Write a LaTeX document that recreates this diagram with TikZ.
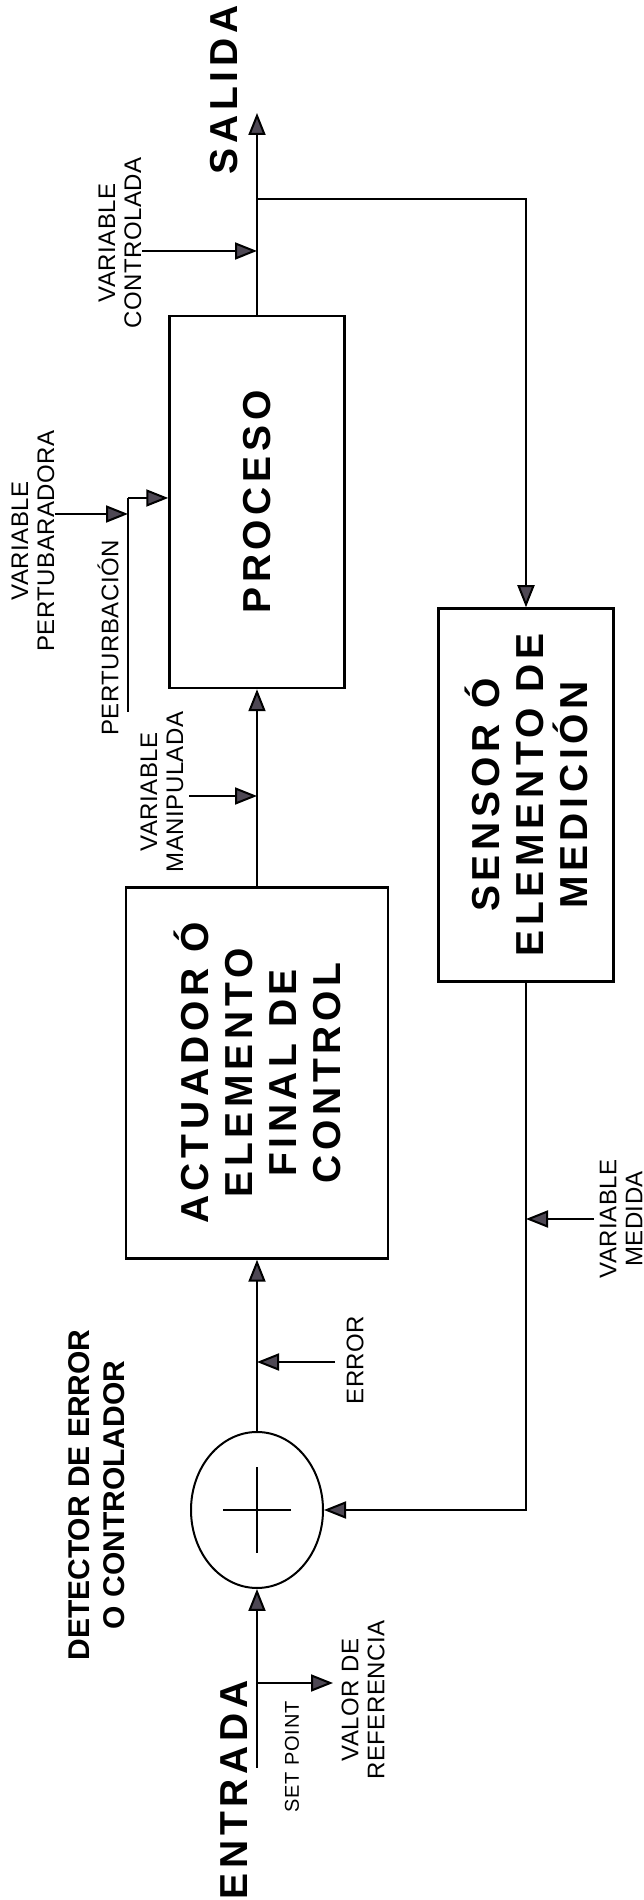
\documentclass[tikz,border=0pt]{standalone}
\usepackage{fontspec}
\setmainfont{Liberation Sans}
\usepackage{xcolor}
\usetikzlibrary{arrows.meta, positioning, shapes.geometric}

\definecolor{tipgray}{RGB}{78,72,84}
\newcommand{\blockfont}{\fontsize{39}{44}\selectfont\bfseries\addfontfeatures{LetterSpace=12}}
\newcommand{\tagfont}{\fontsize{24}{26}\selectfont\addfontfeatures{LetterSpace=2}}

\begin{document}
\begin{tikzpicture}[
    x=1pt, y=1pt,
    block/.style={draw, line width=2.5pt, inner sep=0pt, align=center, font=\blockfont},
    title/.style={inner sep=0pt, align=center, font=\blockfont},
    tag/.style={inner sep=0pt, align=center, font=\tagfont},
    sumnode/.style={draw, ellipse, line width=2pt, minimum width=156pt, minimum height=132pt, inner sep=0pt},
    arrow/.style={-{Triangle[length=22pt, width=17pt, fill=tipgray]}, line width=2pt},
    wire/.style={line width=2pt}
    ]
    \useasboundingbox[fill=white] (0,0) rectangle (644,1900);

    \begin{scope}[rotate=90, transform shape]
    % Nodes
    \node (entrada)  [title] at (110,-234) {ENTRADA};
    \node (salida)   [title] at (1810,-224) {SALIDA};
    \node (detector) [title, font=\fontsize{30}{35}\selectfont\bfseries] at (405,-97) {DETECTOR DE ERROR\\O CONTROLADOR};

    \node (sum)      [sumnode] at (390,-257) {};
    \node (act)      [block, minimum width=371pt, minimum height=262pt] at (827,-257) {ACTUADOR Ó\\ELEMENTO\\FINAL DE\\CONTROL};
    \node (proc)     [block, minimum width=372pt, minimum height=175pt] at (1398,-257) {PROCESO};
    \node (sensor)   [block, minimum width=373pt, minimum height=175pt] at (1105,-526) {SENSOR Ó\\ELEMENTO DE\\MEDICIÓN};

    \node (setpoint) [tag, font=\fontsize{20}{22}\selectfont\addfontfeatures{LetterSpace=4}] at (143,-292) {SET POINT};
    \node (valor)    [tag] at (200,-363) {VALOR DE\\REFERENCIA};
    \node (error)    [tag] at (540,-355) {ERROR};
    \node (medida)   [tag] at (681,-621) {VARIABLE\\MEDIDA};
    \node (manip)    [tag] at (1108,-162) {VARIABLE\\MANIPULADA};
    \node (pert)     [tag] at (1262,-108) {PERTURBACIÓN};
    \node (pertvar)  [tag] at (1359,-33) {VARIABLE\\PERTUBARADORA};
    \node (ctrl)     [tag] at (1657,-120) {VARIABLE\\CONTROLADA};

    % Points on the lines
    \coordinate (in)        at (132,-257);
    \coordinate (spfork)    at (217,-257);
    \coordinate (sptip)     at (217,-333);
    \coordinate (errfoot)   at (538,-335);
    \coordinate (errjoin)   at (538,-257);
    \coordinate (medfoot)   at (681,-594);
    \coordinate (medjoin)   at (681,-526);
    \coordinate (manfoot)   at (1104,-189);
    \coordinate (manjoin)   at (1104,-257);
    \coordinate (pertstart) at (1188,-128);
    \coordinate (pertbend)  at (1402,-128);
    \coordinate (pvfoot)    at (1386,-55);
    \coordinate (pvjoin)    at (1386,-128);
    \coordinate (ctrlfoot)  at (1649,-142);
    \coordinate (ctrljoin)  at (1649,-257);
    \coordinate (fork)      at (1701,-257);
    \coordinate (out)       at (1787,-257);

    % Cross in the summing point
    \draw[line width=2pt] ([xshift=-43pt]sum.center) -- ([xshift=43pt]sum.center);
    \draw[line width=2pt] ([yshift=-34pt]sum.center) -- ([yshift=34pt]sum.center);

    % Arrows
    \draw[arrow] (in) -- (sum.west);
    \draw[arrow] (spfork) -- (sptip);
    \draw[arrow] (sum.east) -- (act.west);
    \draw[arrow] (errfoot) -- (errjoin);
    \draw[arrow] (act.east) -- (proc.west);
    \draw[arrow] (manfoot) -- (manjoin);
    \draw[wire]  (pertstart) -- (pertbend);
    \draw[arrow] (pertbend) -- (pertbend |- proc.north);
    \draw[arrow] (pvfoot) -- (pvjoin);
    \draw[arrow] (proc.east) -- (out);
    \draw[arrow] (ctrlfoot) -- (ctrljoin);
    \draw[arrow] (fork) |- (sensor.east);
    \draw[arrow] (sensor.west) -| (sum.south);
    \draw[arrow] (medfoot) -- (medjoin);
    \end{scope}
  \end{tikzpicture}
\end{document}
